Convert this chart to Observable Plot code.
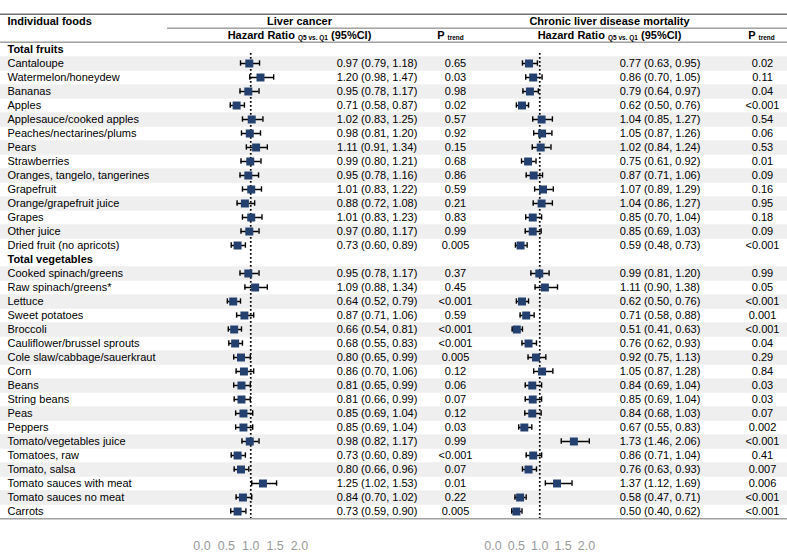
<!DOCTYPE html>
<html><head><meta charset="utf-8">
<script src="https://cdn.jsdelivr.net/npm/d3@7"></script>
<script src="https://cdn.jsdelivr.net/npm/@observablehq/plot@0.6"></script>
<style>
body{margin:0;background:#fff;}
#chart{position:relative;width:787px;height:559px;}
#chart svg{position:absolute;left:0;top:0;}
</style></head><body><div id="chart"></div>
<script>
// ---- data ----
const groupNames = ["Total fruits", "Total vegetables"];
const fruits = ["Cantaloupe","Watermelon/honeydew","Bananas","Apples","Applesauce/cooked apples","Peaches/nectarines/plums","Pears","Strawberries","Oranges, tangelo, tangerines","Grapefruit","Orange/grapefruit juice","Grapes","Other juice","Dried fruit (no apricots)"];
const vegetables = ["Cooked spinach/greens","Raw spinach/greens*","Lettuce","Sweet potatoes","Broccoli","Cauliflower/brussel sprouts","Cole slaw/cabbage/sauerkraut","Corn","Beans","String beans","Peas","Peppers","Tomato/vegetables juice","Tomatoes, raw","Tomato, salsa","Tomato sauces with meat","Tomato sauces no meat","Carrots"];

// Liver cancer (fruits then vegetables)
const liverHR = [0.97,1.20,0.95,0.71,1.02,0.98,1.11,0.99,0.95,1.01,0.88,1.01,0.97,0.73, 0.95,1.09,0.64,0.87,0.66,0.68,0.80,0.86,0.81,0.81,0.85,0.85,0.98,0.73,0.80,1.25,0.84,0.73];
const liverLo = [0.79,0.98,0.78,0.58,0.83,0.81,0.91,0.80,0.78,0.83,0.72,0.83,0.80,0.60, 0.78,0.88,0.52,0.71,0.54,0.55,0.65,0.70,0.65,0.66,0.69,0.69,0.82,0.60,0.66,1.02,0.70,0.59];
const liverHi = [1.18,1.47,1.17,0.87,1.25,1.20,1.34,1.21,1.16,1.22,1.08,1.23,1.17,0.89, 1.17,1.34,0.79,1.06,0.81,0.83,0.99,1.06,0.99,0.99,1.04,1.04,1.17,0.89,0.96,1.53,1.02,0.90];
const liverP = ["0.65","0.03","0.98","0.02","0.57","0.92","0.15","0.68","0.86","0.59","0.21","0.83","0.99","0.005", "0.37","0.45","<0.001","0.59","<0.001","<0.001","0.005","0.12","0.06","0.07","0.12","0.03","0.99","<0.001","0.07","0.01","0.22","0.005"];

// Chronic liver disease mortality
const chronicHR = [0.77,0.86,0.79,0.62,1.04,1.05,1.02,0.75,0.87,1.07,1.04,0.85,0.85,0.59, 0.99,1.11,0.62,0.71,0.51,0.76,0.92,1.05,0.84,0.85,0.84,0.67,1.73,0.86,0.76,1.37,0.58,0.50];
const chronicLo = [0.63,0.70,0.64,0.50,0.85,0.87,0.84,0.61,0.71,0.89,0.86,0.70,0.69,0.48, 0.81,0.90,0.50,0.58,0.41,0.62,0.75,0.87,0.69,0.69,0.68,0.55,1.46,0.71,0.63,1.12,0.47,0.40];
const chronicHi = [0.95,1.05,0.97,0.76,1.27,1.26,1.24,0.92,1.06,1.29,1.27,1.04,1.03,0.73, 1.20,1.38,0.76,0.88,0.63,0.93,1.13,1.28,1.04,1.04,1.03,0.83,2.06,1.04,0.93,1.69,0.71,0.62];
const chronicP = ["0.02","0.11","0.04","<0.001","0.54","0.06","0.53","0.01","0.09","0.16","0.95","0.18","0.09","<0.001", "0.99","0.05","<0.001","0.001","<0.001","0.04","0.29","0.84","0.03","0.03","0.07","0.002","<0.001","0.41","0.007","0.006","<0.001","<0.001"];

const axisTicks = [0, 0.5, 1.0, 1.5, 2.0];
const headers = {
  foods: "Individual foods",
  outcome1: "Liver cancer",
  outcome2: "Chronic liver disease mortality",
  hr: "Hazard Ratio |Q5 vs. Q1| (95%CI)",
  p: "P |trend|"
};

// ---- build rows ----
const foods = fruits.concat(vegetables);
const fmt = d3.format(".2f");
const items = foods.map((f, i) => ({
  key: f,
  stripe: (i < fruits.length ? i : i - fruits.length) % 2 === 0,
  lHR: liverHR[i], lLo: liverLo[i], lHi: liverHi[i], lP: liverP[i],
  cHR: chronicHR[i], cLo: chronicLo[i], cHi: chronicHi[i], cP: chronicP[i]
}));
const rowKeys = ["h1", "h2", groupNames[0], ...fruits, groupNames[1], ...vegetables];

// ---- layout ----
const W = 787, H = 559, MT = 1, MB = H - 530.4;
const step = (H - MT - MB) / rowKeys.length;
const col = {label: 7, hrL: 376.5, pL: 455, hrC: 659.5, pC: 762, headL: 299, headPL: 450, headC: 609, headPC: 761, subLine: 167};
const font = "Liberation Sans, Arial, Helvetica, sans-serif";
const base = {
  width: W, height: H, marginTop: MT, marginBottom: MB, marginLeft: 0, marginRight: 0,
  y: {type: "band", domain: rowKeys, padding: 0, axis: null},
  style: {fontFamily: font, fontSize: "11px", color: "black", background: "transparent", overflow: "visible"}
};

const table = Plot.plot({
  ...base,
  x: {domain: [0, W], range: [0, W], axis: null},
  marks: [
    Plot.ruleY(items.filter(d => d.stripe), {y: "key", stroke: "#efefef", strokeWidth: step}),
    Plot.ruleY(["h1"], {y: d => d, dy: -step / 2, stroke: "#707070", strokeWidth: 1.5}),
    Plot.ruleY(["h2"], {y: d => d, dy: -step / 2, x1: col.subLine, x2: W, stroke: "#707070", strokeWidth: 1}),
    Plot.ruleY([groupNames[0]], {y: d => d, dy: -step / 2, stroke: "#707070", strokeWidth: 1}),
    Plot.ruleY([vegetables[vegetables.length - 1]], {y: d => d, dy: step / 2, stroke: "#a0a0a0", strokeWidth: 1.5}),
    // headers
    Plot.text([headers.foods], {x: col.label, y: () => "h1", text: d => d, textAnchor: "start", fontWeight: "bold"}),
    Plot.text([headers.outcome1], {x: col.headL, y: () => "h1", text: d => d, fontWeight: "bold"}),
    Plot.text([headers.outcome2], {x: col.headC, y: () => "h1", text: d => d, fontWeight: "bold"}),
    Plot.text([headers.hr], {x: col.headL, y: () => "h2", text: d => d, fontWeight: "bold"}),
    Plot.text([headers.hr], {x: col.headC, y: () => "h2", text: d => d, fontWeight: "bold"}),
    Plot.text([headers.p], {x: col.headPL, y: () => "h2", text: d => d, fontWeight: "bold"}),
    Plot.text([headers.p], {x: col.headPC, y: () => "h2", text: d => d, fontWeight: "bold"}),
    // group labels
    Plot.text(groupNames, {x: col.label, y: d => d, text: d => d, textAnchor: "start", fontWeight: "bold"}),
    // rows
    Plot.text(items, {x: col.label, y: "key", text: "key", textAnchor: "start"}),
    Plot.text(items, {x: col.hrL, y: "key", text: d => `${fmt(d.lHR)} (${fmt(d.lLo)}, ${fmt(d.lHi)})`}),
    Plot.text(items, {x: col.pL, y: "key", text: "lP"}),
    Plot.text(items, {x: col.hrC, y: "key", text: d => `${fmt(d.cHR)} (${fmt(d.cLo)}, ${fmt(d.cHi)})`}),
    Plot.text(items, {x: col.pC, y: "key", text: "cP"})
  ]
});

// subscripts
d3.select(table).selectAll("text").each(function () {
  const t = this.textContent;
  if (!t.includes("|")) return;
  const parts = t.split("|");
  const sel = d3.select(this);
  sel.text(null);
  parts.forEach((p, i) => {
    const ts = sel.append("tspan").text(p);
    if (i % 2 === 1) ts.attr("font-size", "6.5px").attr("dy", "1");
    else if (i > 0) ts.attr("dy", "-1");
  });
});

function forest(hrKey, loKey, hiKey, range) {
  return Plot.plot({
    ...base,
    x: {domain: [0, 2], range, axis: null},
    marks: [
      Plot.ruleX([1], {y1: () => fruits[0], y2: () => vegetables[vegetables.length - 1], insetTop: -3, stroke: "black", strokeWidth: 1.7, strokeDasharray: "1.7,2.3"}),
      Plot.ruleY(items, {y: "key", x1: loKey, x2: hiKey, stroke: "black", strokeWidth: 1.5}),
      Plot.tickX(items, {y: "key", x: loKey, insetTop: 4.3, insetBottom: 4.3, stroke: "black", strokeWidth: 1.4}),
      Plot.tickX(items, {y: "key", x: hiKey, insetTop: 4.3, insetBottom: 4.3, stroke: "black", strokeWidth: 1.4}),
      Plot.dot(items, {y: "key", x: hrKey, symbol: "square", r: 4.5, fill: "#24406e", stroke: "none"}),
      Plot.axisX({anchor: "bottom", ticks: axisTicks, tickFormat: d3.format(".1f"), tickSize: 0, tickPadding: 10, fontSize: 12.5, color: "#9a9a9a"})
    ]
  });
}

const liver = forest("lHR", "lLo", "lHi", [201.5, 299]);
const chronic = forest("cHR", "cLo", "cHi", [492.5, 586]);

const host = document.getElementById("chart");
host.append(table, liver, chronic);
</script></body></html>
